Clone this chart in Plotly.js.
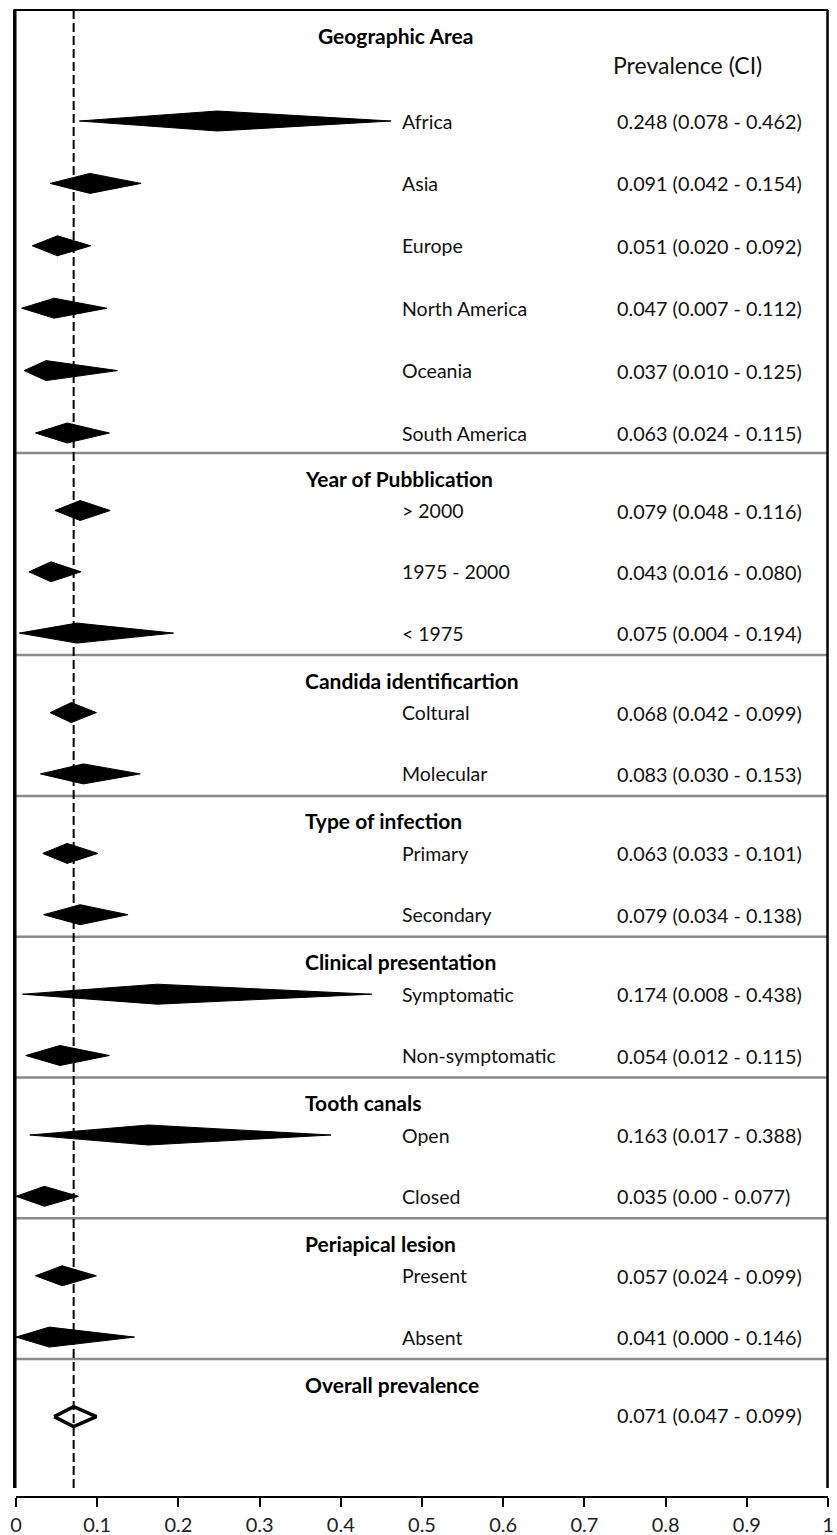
<!DOCTYPE html>
<html>
<head>
<meta charset="utf-8">
<script src="https://cdn.plot.ly/plotly-3.0.1.min.js"></script>
<style>html,body{margin:0;padding:0;background:#fff;}#chart{width:837px;height:1535px;}</style>
</head>
<body>
<div id="chart"></div>
<script>
// ---------------- DATA ----------------
const groupTitles = ["Geographic Area", "Year of Pubblication", "Candida identificartion", "Type of infection",
  "Clinical presentation", "Tooth canals", "Periapical lesion", "Overall prevalence"];
const categories = ["Africa", "Asia", "Europe", "North America", "Oceania", "South America",
  "> 2000", "1975 - 2000", "< 1975",
  "Coltural", "Molecular",
  "Primary", "Secondary",
  "Symptomatic", "Non-symptomatic",
  "Open", "Closed",
  "Present", "Absent",
  ""];
const groupIndex = [0, 0, 0, 0, 0, 0, 1, 1, 1, 2, 2, 3, 3, 4, 4, 5, 5, 6, 6, 7];
const estimate = [0.248, 0.091, 0.051, 0.047, 0.037, 0.063, 0.079, 0.043, 0.075, 0.068, 0.083, 0.063, 0.079, 0.174, 0.054, 0.163, 0.035, 0.057, 0.041, 0.071];
const lower    = [0.078, 0.042, 0.020, 0.007, 0.010, 0.024, 0.048, 0.016, 0.004, 0.042, 0.030, 0.033, 0.034, 0.008, 0.012, 0.017, 0.000, 0.024, 0.000, 0.047];
const upper    = [0.462, 0.154, 0.092, 0.112, 0.125, 0.115, 0.116, 0.080, 0.194, 0.099, 0.153, 0.101, 0.138, 0.438, 0.115, 0.388, 0.077, 0.099, 0.146, 0.099];
const ciLabels = ["0.248 (0.078 - 0.462)", "0.091 (0.042 - 0.154)", "0.051 (0.020 - 0.092)", "0.047 (0.007 - 0.112)",
  "0.037 (0.010 - 0.125)", "0.063 (0.024 - 0.115)", "0.079 (0.048 - 0.116)", "0.043 (0.016 - 0.080)",
  "0.075 (0.004 - 0.194)", "0.068 (0.042 - 0.099)", "0.083 (0.030 - 0.153)", "0.063 (0.033 - 0.101)",
  "0.079 (0.034 - 0.138)", "0.174 (0.008 - 0.438)", "0.054 (0.012 - 0.115)", "0.163 (0.017 - 0.388)",
  "0.035 (0.00 - 0.077)", "0.057 (0.024 - 0.099)", "0.041 (0.000 - 0.146)", "0.071 (0.047 - 0.099)"];
const columnHeader = "Prevalence (CI)";
const xTickVals = [0, 0.1, 0.2, 0.3, 0.4, 0.5, 0.6, 0.7, 0.8, 0.9, 1];
const xTickText = ["0", "0.1", "0.2", "0.3", "0.4", "0.5", "0.6", "0.7", "0.8", "0.9", "1"];
const overallIdx = categories.length - 1;

// ---------------- LAYOUT COMPUTATION (vertical row positions, px from plot top) ----------------
const PLOT_H = 1486;
const HALF_H = 10;
const rowPos = [];
const headerPos = [];
const sepPos = [];
let cursor = 0;
for (let g = 0; g < groupTitles.length; g++) {
  const members = [];
  groupIndex.forEach((gi, i) => { if (gi === g) members.push(i); });
  if (g === 0) {
    headerPos.push(25);
    members.forEach((i, k) => { rowPos[i] = 111 + k * 62.4; });
  } else {
    headerPos.push(cursor + 25);
    members.forEach((i, k) => { rowPos[i] = cursor + 57.5 + k * 61.3; });
  }
  const last = rowPos[members[members.length - 1]];
  cursor = last + (g === 0 ? 20 : 22);
  if (g < groupTitles.length - 1) sepPos.push(cursor);
}

// ---------------- TRACES ----------------
const traces = categories.map((c, i) => {
  const p = rowPos[i];
  const hollow = i === overallIdx;
  return {
    type: "scatter", mode: "lines",
    x: [lower[i], estimate[i], upper[i], estimate[i], lower[i]],
    y: [p, p - HALF_H, p, p + HALF_H, p],
    fill: hollow ? "none" : "toself",
    fillcolor: "#000",
    line: { color: "#000", width: hollow ? 3.5 : 1 },
    hoverinfo: "skip", showlegend: false
  };
});

// ---------------- SHAPES ----------------
const shapes = [];
sepPos.forEach(s => shapes.push({
  type: "line", xref: "paper", yref: "y", x0: 0, x1: 1, y0: s, y1: s,
  line: { color: "#8a8a8a", width: 2.5 }
}));
shapes.push({
  type: "line", xref: "x", yref: "paper", x0: estimate[overallIdx], x1: estimate[overallIdx], y0: 0.0054, y1: 1,
  line: { color: "#000", width: 2, dash: "9px,4px" }, layer: "above"
});
shapes.push({ type: "line", xref: "paper", yref: "paper", x0: -0.0015, x1: -0.0015, y0: 0.0054, y1: 1, line: { color: "#000", width: 3.5 } });
shapes.push({ type: "line", xref: "paper", yref: "paper", x0: -0.003, x1: 1.0, y0: 1, y1: 1, line: { color: "#000", width: 2 } });
shapes.push({ type: "line", xref: "paper", yref: "paper", x0: 0.9994, x1: 0.9994, y0: 0.0054, y1: 1, line: { color: "#000", width: 2.5 } });

// ---------------- ANNOTATIONS ----------------
const FONT = "Lato, 'Open Sans', sans-serif";
const annotations = [];
const px2x = px => (px - 16) / 812;
groupTitles.forEach((t, g) => annotations.push({
  xref: "paper", yref: "y", x: px2x(g === 0 ? 316 : 303), y: headerPos[g],
  xanchor: "left", yanchor: "middle", showarrow: false, text: "<b>" + t + "</b>",
  font: { family: FONT, size: 21, color: "#000" }
}));
annotations.push({
  xref: "paper", yref: "y", x: px2x(611), y: 55, xanchor: "left", yanchor: "middle", showarrow: false,
  text: columnHeader, font: { family: FONT, size: 23, color: "#111" }
});
categories.forEach((c, i) => {
  if (c) annotations.push({
    xref: "paper", yref: "y", x: px2x(400), y: rowPos[i], xanchor: "left", yanchor: "middle", showarrow: false,
    text: c, font: { family: FONT, size: 19.5, color: "#111" }
  });
  annotations.push({
    xref: "paper", yref: "y", x: px2x(615), y: rowPos[i] - (i === overallIdx ? 2 : 0), xanchor: "left", yanchor: "middle", showarrow: false,
    text: ciLabels[i], font: { family: FONT, size: 19.8, color: "#111" }
  });
});

const layout = {
  width: 837, height: 1535,
  margin: { l: 16, r: 9, t: 10, b: 39 },
  paper_bgcolor: "#fff", plot_bgcolor: "#fff",
  showlegend: false,
  xaxis: {
    range: [0, 1], tickvals: xTickVals, ticktext: xTickText,
    ticks: "outside", ticklen: 9, tickwidth: 2, tickcolor: "#000",
    showline: true, linecolor: "#000", linewidth: 2,
    showgrid: false, zeroline: false, ticklabelstandoff: 1,
    tickfont: { family: FONT, size: 20, color: "#222" }
  },
  yaxis: { range: [PLOT_H, 0], visible: false, showgrid: false, zeroline: false },
  shapes: shapes,
  annotations: annotations
};

Plotly.newPlot("chart", traces, layout, { staticPlot: true, displayModeBar: false });
</script>
</body>
</html>
